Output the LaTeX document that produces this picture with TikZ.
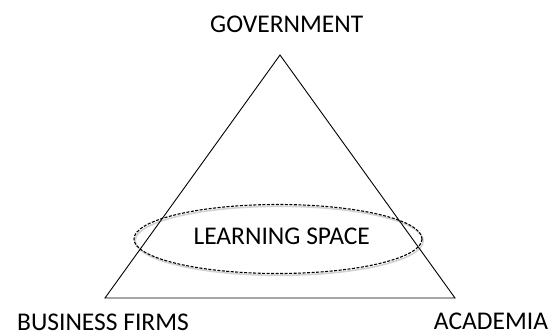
\documentclass[tikz,border=0pt]{standalone}
\usepackage{fontspec}
\setmainfont{Carlito}
\usetikzlibrary{calc}
\begin{document}
\begin{tikzpicture}[x=1pt,y=-1pt,
  lbl/.style={inner sep=0pt, anchor=base, font=\fontsize{25.5}{30}\selectfont},
  tri/.style={draw=black, line width=0.9pt, line join=miter},
  space/.style={draw=black, line width=1.1pt, dash pattern=on 3pt off 1.5pt},
  spaceshadow/.style={draw=black!35, line width=1.6pt, opacity=0.5}]
\useasboundingbox (0,0) rectangle (553,335);
% corners of the triangle
\coordinate (G) at (280,55);
\coordinate (B) at (105,298);
\coordinate (A) at (455,298);
% learning space ellipse
\coordinate (E) at (278,239);
\draw[spaceshadow] ($(E)+(1.2,1.8)$) ellipse [x radius=144, y radius=34.5];
\draw[tri] (G) -- (B) -- (A) -- cycle;
\draw[space] (E) ellipse [x radius=144, y radius=34.5];
% labels
\node[lbl] (gov) at (286.7,32) {GOVERNMENT};
\node[lbl] (bus) at (103,330.8) {BUSINESS FIRMS};
\node[lbl] (aca) at (491,329) {ACADEMIA};
\node[lbl] (ls) at (281.7,244) {LEARNING SPACE};
\end{tikzpicture}
\end{document}
